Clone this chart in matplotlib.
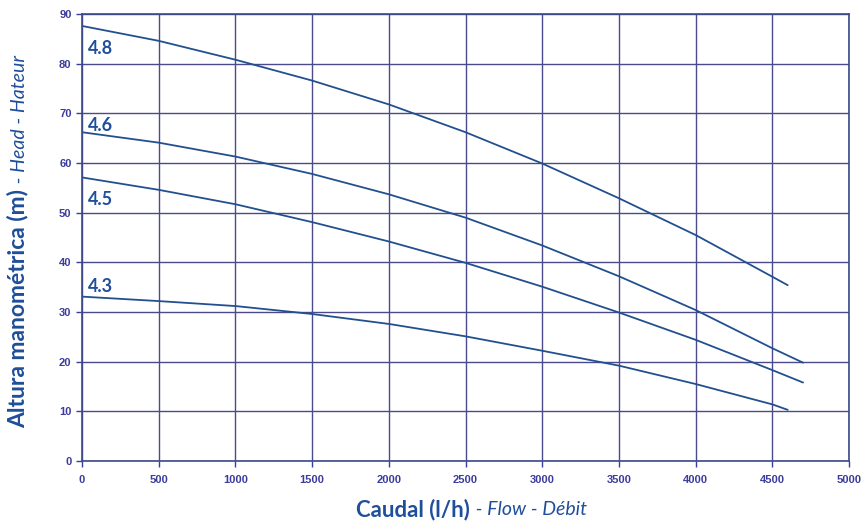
import matplotlib.pyplot as plt
import numpy as np

# flow (l/h) sample points
flow_a = [0, 500, 1000, 1500, 2000, 2500, 3000, 3500, 4000, 4500, 4600]
flow_b = [0, 500, 1000, 1500, 2000, 2500, 3000, 3500, 4000, 4500, 4700]

head_48 = [87.6, 84.6, 80.8, 76.6, 71.8, 66.2, 59.9, 52.9, 45.5, 37.1, 35.4]
head_46 = [66.2, 64.1, 61.3, 57.8, 53.7, 49.0, 43.4, 37.2, 30.4, 22.7, 19.8]
head_45 = [57.1, 54.6, 51.7, 48.1, 44.2, 39.9, 35.1, 29.9, 24.4, 18.3, 15.8]
head_43 = [33.1, 32.2, 31.2, 29.6, 27.6, 25.1, 22.2, 19.2, 15.5, 11.4, 10.3]

curve_names = ["4.8", "4.6", "4.5", "4.3"]
label_y = [83.1, 67.6, 52.7, 35.1]

x_ticks = np.arange(0, 5001, 500)
y_ticks = np.arange(0, 91, 10)

curve_col = '#22508f'
grid_col = '#4a4a8c'
tick_col = '#3c3c9c'
text_col = '#1f4e9a'

fig = plt.figure(figsize=(8.62, 5.25), dpi=100)
ax = fig.add_axes([0.0951, 0.1219, 0.8899, 0.8514])

series = [(flow_a, head_48), (flow_b, head_46), (flow_b, head_45), (flow_a, head_43)]
for (fx, hy), name, ly in zip(series, curve_names, label_y):
    ax.plot(fx, hy, color=curve_col, lw=1.3, solid_capstyle='round')
    ax.text(40, ly, name, color=text_col, fontsize=13, fontweight='bold',
            family='Lato', ha='left', va='center')

ax.set_xlim(0, 5000)
ax.set_ylim(0, 90)
ax.set_xticks(x_ticks)
ax.set_yticks(y_ticks)
ax.grid(True, color=grid_col, lw=1.0)
ax.set_axisbelow(True)
for s in ax.spines.values():
    s.set_color('#3a4a8a')
    s.set_linewidth(1.2)
ax.tick_params(colors=tick_col, length=4, width=1, labelsize=8)
for lab in ax.get_xticklabels() + ax.get_yticklabels():
    lab.set_fontweight('bold')
    lab.set_family('Liberation Sans')
    lab.set_color(tick_col)
ax.tick_params(axis='x', pad=6)

# axis titles, bold part + italic part
fig.text(0.545, 0.029, "Caudal (l/h)", color=text_col, fontsize=16, fontweight='bold',
         family='Lato', ha='right', va='center')
fig.text(0.546, 0.029, " - Flow - Débit", color=text_col, fontsize=14, style='italic',
         family='Lato', ha='left', va='center')
fig.text(0.021, 0.640, "Altura manométrica (m)", color=text_col, fontsize=16.5, fontweight='bold',
         family='Lato', rotation=90, ha='center', va='top')
fig.text(0.023, 0.641, " - Head - Hateur", color=text_col, fontsize=14, style='italic',
         family='Lato', rotation=90, ha='center', va='bottom')

fig.savefig('out.png', dpi=100)
